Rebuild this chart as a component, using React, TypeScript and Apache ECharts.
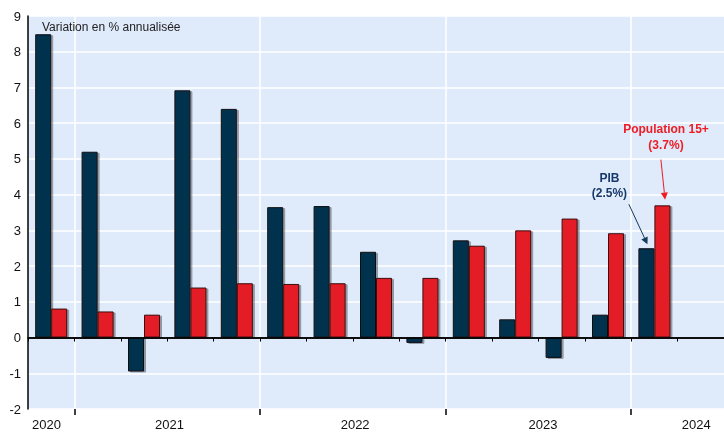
import React, { useEffect, useRef } from "react";
import * as echarts from "echarts";

const quarters = [
  "2020T4",
  "2021T1", "2021T2", "2021T3", "2021T4",
  "2022T1", "2022T2", "2022T3", "2022T4",
  "2023T1", "2023T2", "2023T3", "2023T4",
  "2024T1", "2024T2",
];
const pibValues = [8.49, 5.2, -0.95, 6.92, 6.4, 3.65, 3.68, 2.4, -0.15, 2.72, 0.51, -0.57, 0.64, 2.5, null];
const popValues = [0.81, 0.73, 0.64, 1.4, 1.52, 1.5, 1.52, 1.67, 1.67, 2.57, 3.0, 3.33, 2.92, 3.7, null];
const yearLabels = ["2020", "2021", "2022", "2023", "2024"];
const yearLabelPos = [0.4, 3.05, 7.05, 11.1, 14.4];
const yearBoundaries = [1, 5, 9, 13];

const FONT = "Liberation Sans, Arial, sans-serif";

export default function App() {
  const ref = useRef<HTMLDivElement>(null);
  useEffect(() => {
    document.body.style.margin = "0";
    const chart = echarts.init(ref.current!, null, { renderer: "svg" });
    chart.setOption({
      animation: false,
      textStyle: { fontFamily: FONT },
      title: {
        text: "Variation en % annualisée",
        left: 37,
        top: 16,
        textStyle: { fontSize: 12, fontWeight: "normal", color: "#222", fontFamily: FONT },
      },
      grid: {
        left: 28,
        right: 0,
        top: 16,
        bottom: 23,
        show: true,
        backgroundColor: "#dfeafb",
        borderWidth: 0,
      },
      xAxis: [
        {
          type: "category",
          data: quarters,
          position: "bottom",
          axisLine: { show: true, lineStyle: { color: "#000", width: 1.5 } },
          axisTick: { show: true, interval: 0, length: 4, lineStyle: { color: "#000", width: 1 } },
          axisLabel: { show: false },
          splitLine: { show: false },
        },
        {
          type: "value",
          min: 0,
          max: quarters.length,
          position: "bottom",
          axisLine: { show: false },
          axisTick: {
            show: true,
            customValues: yearBoundaries,
            length: 6,
            lineStyle: { color: "#000", width: 1.5 },
          },
          axisLabel: {
            show: true,
            customValues: yearLabelPos,
            formatter: (v: number) => {
              const i = yearLabelPos.indexOf(v);
              return i >= 0 ? yearLabels[i] : "";
            },
            fontSize: 13,
            color: "#111",
            margin: 9,
            fontFamily: FONT,
          },
          splitLine: { show: true, lineStyle: { color: "#ffffff", width: 1.5 } },
        },
      ],
      yAxis: {
        type: "value",
        min: -2,
        max: 9,
        interval: 1,
        axisLine: { show: true, lineStyle: { color: "#000", width: 1.5 } },
        axisTick: { show: false },
        axisLabel: { fontSize: 13, color: "#111", margin: 7, fontFamily: FONT },
        splitLine: { show: true, lineStyle: { color: "#ffffff", width: 1.5 } },
      },
      series: [
        {
          name: "PIB",
          type: "bar",
          xAxisIndex: 0,
          data: pibValues,
          barWidth: 16,
          barGap: "0%",
          itemStyle: {
            color: "#05304d",
            borderColor: "#111",
            borderWidth: 1,
            shadowColor: "rgba(0,0,0,0.35)",
            shadowOffsetX: 2,
            shadowOffsetY: 1,
            shadowBlur: 1,
          },
          markLine: {
            silent: true,
            symbol: ["none", "none"],
            label: { show: false },
            lineStyle: { color: "#000", width: 1.5, type: "solid" },
            data: [{ yAxis: 0 }],
          },
        },
        {
          name: "Population 15+",
          type: "bar",
          xAxisIndex: 0,
          data: popValues,
          barWidth: 16,
          barGap: "0%",
          itemStyle: {
            color: "#e31e25",
            borderColor: "#3a1010",
            borderWidth: 1,
            shadowColor: "rgba(0,0,0,0.35)",
            shadowOffsetX: 2,
            shadowOffsetY: 1,
            shadowBlur: 1,
          },
        },
      ],
    });

    const px = (x: number, y: number) => [
      chart.convertToPixel({ xAxisIndex: 1 }, x) as number,
      chart.convertToPixel({ yAxisIndex: 0 }, y) as number,
    ];

    const arrow = (from: number[], to: number[], color: string) => {
      const a = px(from[0], from[1]);
      const b = px(to[0], to[1]);
      const dx = b[0] - a[0];
      const dy = b[1] - a[1];
      const len = Math.sqrt(dx * dx + dy * dy);
      const ux = dx / len;
      const uy = dy / len;
      const hl = 7;
      const hw = 3.5;
      const base = [b[0] - ux * hl, b[1] - uy * hl];
      return [
        {
          type: "line",
          shape: { x1: a[0], y1: a[1], x2: base[0], y2: base[1] },
          style: { stroke: color, lineWidth: 1 },
          silent: true,
        },
        {
          type: "polygon",
          shape: {
            points: [
              [b[0], b[1]],
              [base[0] - uy * hw, base[1] + ux * hw],
              [base[0] + uy * hw, base[1] - ux * hw],
            ],
          },
          style: { fill: color },
          silent: true,
        },
      ];
    };

    const pibText = px(12.53, 4.25);
    const popText = px(13.75, 5.6);

    chart.setOption({
      graphic: [
        {
          type: "text",
          x: pibText[0],
          y: pibText[1],
          style: {
            text: "PIB\n(2.5%)",
            fill: "#173a6b",
            font: `bold 12px ${FONT}`,
            align: "center",
            verticalAlign: "middle",
            lineHeight: 15,
          },
          silent: true,
        },
        {
          type: "text",
          x: popText[0],
          y: popText[1],
          style: {
            text: "Population 15+\n(3.7%)",
            fill: "#ee1c24",
            font: `bold 12px ${FONT}`,
            align: "center",
            verticalAlign: "middle",
            lineHeight: 16,
          },
          silent: true,
        },
        ...arrow([12.95, 3.73], [13.35, 2.61], "#173a5b"),
        ...arrow([13.64, 4.98], [13.73, 3.86], "#ee1c24"),
      ],
    });

    return () => chart.dispose();
  }, []);

  return (
    <div
      ref={ref}
      style={{ position: "fixed", left: 0, top: 0, width: 724, height: 432 }}
    />
  );
}
